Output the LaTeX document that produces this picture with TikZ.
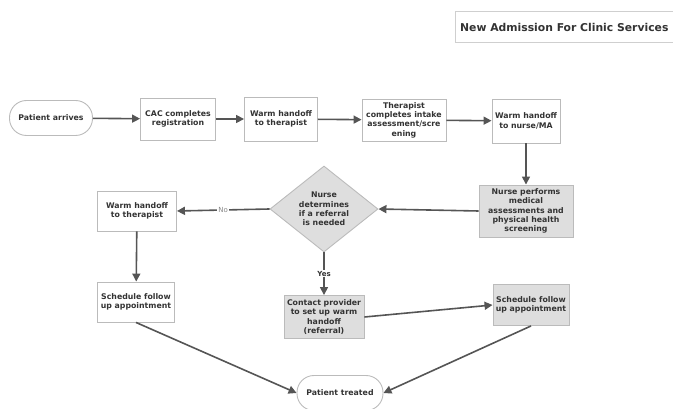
\documentclass[tikz,border=0pt]{standalone}
\usepackage{fontspec}
\setmainfont{DejaVu Sans}
\usetikzlibrary{arrows.meta,shapes.geometric}
\definecolor{linec}{HTML}{555555}
\definecolor{boxc}{HTML}{BBBBBB}
\definecolor{fillc}{HTML}{DEDEDE}
\definecolor{txtc}{HTML}{333333}
\tikzset{
  lbl/.style={font=\bfseries\fontsize{7.8}{9.3}\selectfont, text=txtc, align=center},
  box/.style={lbl, draw=boxc, line width=0.9pt, inner sep=0pt, minimum width=#1},
  box/.default=76pt,
  graybox/.style={box=#1, fill=fillc},
  graybox/.default=76pt,
  pill/.style={lbl, draw=boxc, line width=0.9pt, rounded corners=17pt, inner sep=0pt, minimum height=35pt},
  dia/.style={lbl, diamond, draw=boxc, fill=fillc, line width=0.9pt, inner sep=0pt, minimum width=108pt, minimum height=86pt},
  conn/.style={draw=linec, line width=1.6pt, -{Triangle[length=8pt,width=8pt]}},
}
\begin{document}
\begin{tikzpicture}[x=1pt,y=-1pt]
\useasboundingbox (0,0) rectangle (673,409);
% title
\draw[draw=boxc!70, line width=0.6pt] (455,11) rectangle (690,42);
\node[anchor=west, inner sep=0pt, font=\bfseries\fontsize{10.8}{12}\selectfont, text=txtc] (title) at (460,27) {New Admission For Clinic Services};
% row 1
\node[pill, minimum width=83pt] (arr) at (51,118) {Patient arrives};
\node[box=75pt, minimum height=42pt] (cac) at (178,119) {CAC completes\\registration};
\node[box=73pt, minimum height=44pt] (wh1) at (281,119) {Warm handoff\\to therapist};
\node[box=84pt, minimum height=42pt] (ther) at (404,120) {Therapist\\completes intake\\assessment/scre\\ening};
\node[box=68pt, minimum height=44pt] (wh2) at (526,121) {Warm handoff\\to nurse/MA};
% row 2
\node[graybox=94pt, minimum height=52pt] (nurse) at (526,211) {Nurse performs\\medical\\assessments and\\physical health\\screening};
\node[dia] (dec) at (324,209) {Nurse\\determines\\if a referral\\is needed};
\node[box=79pt, minimum height=40pt] (wh3) at (137,211) {Warm handoff\\to therapist};
% row 3
\node[box=77pt, minimum height=40pt] (s1) at (136,302) {Schedule follow\\up appointment};
\node[graybox=80pt, minimum height=43pt] (cp) at (324,317) {Contact provider\\to set up warm\\handoff\\(referral)};
\node[graybox=76pt, minimum height=41pt] (s2) at (531,305) {Schedule follow\\up appointment};
\node[pill, minimum width=86pt] (tr) at (340,393) {Patient treated};
% connectors
\draw[conn] (arr) -- (cac);
\draw[conn] (cac) -- (wh1);
\draw[conn] (wh1) -- (ther);
\draw[conn] (ther) -- (wh2);
\draw[conn] (wh2) -- (nurse);
\draw[conn] (nurse.west) -- (dec.east);
\draw[conn] (dec.west) -- node[lbl, fill=white, inner sep=1pt, font=\fontsize{7}{8}\selectfont, text=linec!70] {No} (wh3.east);
\draw[conn] (dec.south) -- node[lbl, fill=white, inner sep=1pt, font=\bfseries\fontsize{7}{8}\selectfont] {Yes} (cp.north);
\draw[conn] (wh3) -- (s1);
\draw[conn] (cp.east) -- (s2.west);
\draw[conn] (s1.south) -- (tr.west);
\draw[conn] (s2.south) -- (tr.east);
\end{tikzpicture}
\end{document}
